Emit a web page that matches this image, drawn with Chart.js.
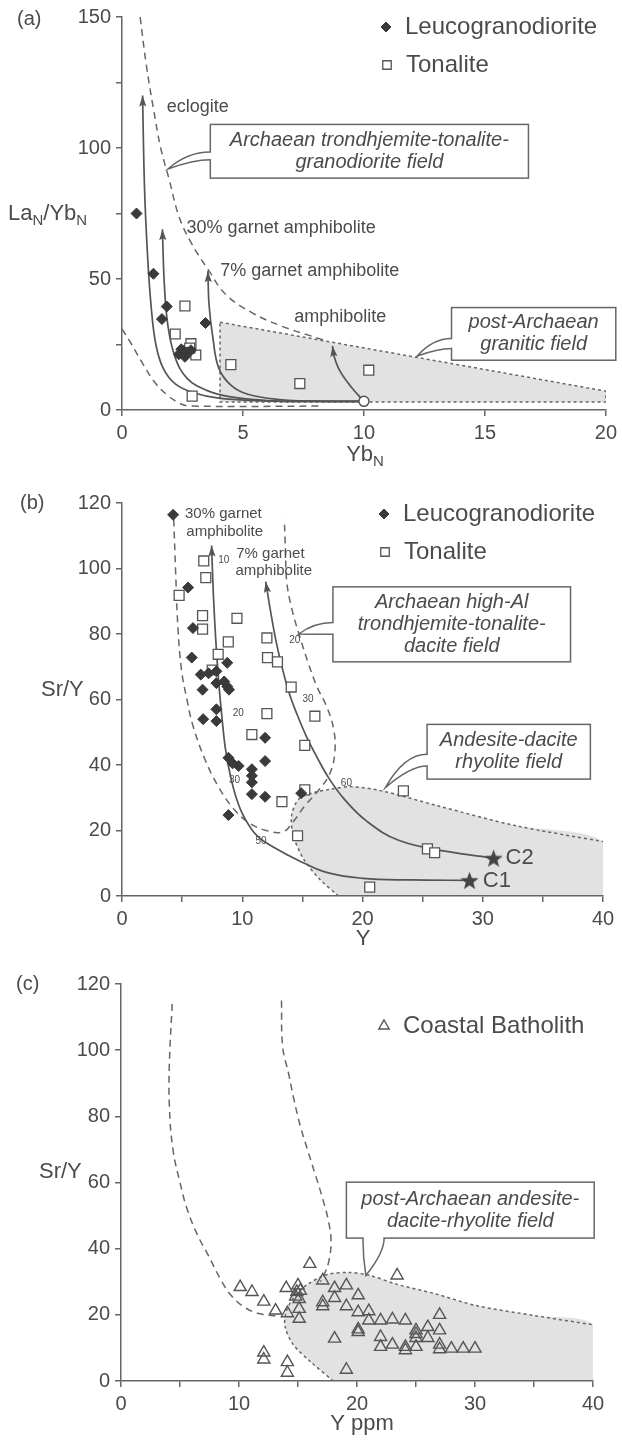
<!DOCTYPE html>
<html>
<head>
<meta charset="utf-8">
<title>Sr/Y and La/Yb discrimination diagrams</title>
<script src="https://cdn.jsdelivr.net/npm/chart.js@4.4.1/dist/chart.umd.min.js"></script>
<style>
  html, body { margin: 0; padding: 0; background: #fff; }
  body { width: 622px; height: 1440px; position: relative; overflow: hidden; }
  canvas { position: absolute; left: 0; }
</style>
</head>
<body>
<canvas id="chartA" width="622" height="480" style="top:0"></canvas>
<canvas id="chartB" width="622" height="490" style="top:470px"></canvas>
<canvas id="chartC" width="622" height="490" style="top:950px"></canvas>
<script>
// tick labels
const xTicksA = [0, 5, 10, 15, 20];
const yTicksA = [0, 50, 100, 150];
const xTicksSrY = [0, 10, 20, 30, 40];
const yTicksSrY = [0, 20, 40, 60, 80, 100, 120];

// (a) LaN/YbN vs YbN
const leucoA = [[0.6, 75], [1.3, 52], [1.85, 39.5], [1.65, 34.7], [3.45, 33.2], [2.45, 23.2], [2.7, 22], [2.6, 20.3], [2.85, 22.8], [2.35, 21.3], [2.55, 22.5]];
const tonaliteA = [[2.6, 39.7], [2.2, 29], [2.85, 25.3], [3.05, 21], [2.9, 5.3], [4.5, 17.3], [7.35, 10.1], [10.2, 15.2], [2.8, 23.6]];
const meltSourceA = [[10, 3.3]];
const eclogiteA = [[10, 3.3], [7.5, 3.3], [5.5, 3.6], [4, 4.5], [3, 6.5], [2.2, 10], [1.7, 16], [1.4, 25], [1.2, 40], [1.05, 60], [0.93, 85], [0.85, 120]];
const garnet30A = [[10, 3.3], [7.5, 3.3], [6, 3.6], [4.5, 5], [3.5, 7.5], [2.7, 12], [2.2, 20], [1.9, 32], [1.75, 48], [1.67, 69]];
const garnet7A = [[10, 3.3], [8, 3.4], [6.5, 4], [5.2, 6], [4.5, 9.5], [4.0, 16], [3.75, 28], [3.6, 40], [3.55, 53]];
const amphiboliteA = [[10, 3.3], [9.5, 8.5], [9.0, 15], [8.75, 21], [8.7, 24.5]];
const ttgOuterA = [[0.75, 150], [1.0, 132], [1.3, 115], [1.6, 100], [1.95, 88], [2.35, 74], [2.85, 64], [3.6, 53], [4.3, 44], [5.4, 37], [6.6, 32], [7.8, 28.3], [8.5, 26.2]];
const ttgInnerA = [[0, 31], [0.4, 25], [0.9, 17], [1.4, 10], [1.9, 5.5], [2.4, 2.5], [2.8, 1.5], [8.3, 1.5]];
const postArchaeanA = [[4.05, 33.5], [20, 7.2], [20, 3.1], [4.05, 3.1], [4.05, 33.5]];

// (b) Sr/Y vs Y
const leucoB = [[4.25, 116.4], [5.5, 94.2], [5.9, 81.8], [5.8, 72.8], [8.75, 71.2], [6.55, 67.6], [7.2, 68], [7.85, 68.6], [6.7, 63], [7.85, 65], [8.5, 65.5], [8.75, 64], [8.9, 63], [6.75, 54], [7.85, 53.4], [7.85, 57], [8.85, 42.2], [9.2, 40.5], [9.7, 39.7], [10.8, 38.7], [10.8, 36.7], [10.8, 34.7], [10.8, 31.1], [11.9, 48.3], [11.9, 41.2], [11.9, 30.3], [14.9, 31.4], [8.85, 24.7]];
const tonaliteB = [[4.75, 91.8], [6.8, 102.3], [6.97, 97.2], [6.7, 85.6], [6.7, 81.5], [9.56, 84.8], [8.84, 77.6], [12.05, 78.8], [12.1, 72.8], [8.0, 73.8], [12.93, 71.5], [7.5, 69], [14.07, 63.8], [12.05, 55.7], [16.04, 54.9], [10.8, 49.3], [15.2, 46], [15.2, 32.4], [13.3, 28.8], [14.6, 18.4], [23.4, 32.1], [25.4, 14.4], [26.0, 13.2], [20.6, 2.7]];
const sourcesB = [[28.9, 4.8], [30.9, 11.6]];
const sourceNames = ['C1', 'C2'];
const garnet30B = [[28.9, 4.8], [24, 4.9], [20, 5.4], [17, 7.2], [14.6, 11], [12.8, 14.5], [11.2, 18.5], [10.1, 24.5], [9.5, 30], [9.0, 37], [8.6, 45], [8.3, 55], [8.05, 65], [7.8, 78], [7.6, 92], [7.45, 107]];
const garnet7B = [[30.9, 11.6], [27, 13.6], [23, 17], [20.3, 23], [18.5, 29.5], [17.2, 36], [16.2, 42.5], [15.3, 49], [14.5, 56], [13.9, 62], [13.3, 70], [12.8, 78], [12.35, 87], [11.95, 96]];
const ttdFieldB = [[4.3, 115], [4.45, 100], [4.65, 82], [4.95, 69], [5.4, 60], [5.9, 52], [6.9, 41.7], [8.0, 33.5], [9.2, 27], [10.5, 22.5], [12.0, 20], [13.4, 19.6], [14.2, 22.5], [15.2, 27.5], [16.4, 32.5], [17.3, 37.5], [17.7, 44], [17.6, 51], [17.0, 58], [16.2, 64], [15.5, 71], [14.8, 79], [14.1, 88], [13.7, 96], [13.6, 105], [13.5, 115]];
const adrFieldB = [[18, 0], [16.4, 5.3], [15.1, 11.3], [14.25, 18.4], [14.1, 24.5], [14.7, 29.6], [16.0, 31.6], [17.3, 32.6], [19, 33.4], [21.6, 32.1], [26.2, 27.6], [32.7, 21.5], [40, 16.6]];
// melt fractions marked along the two curves
const meltMarksB = [[8.0, 102.6, '10'], [9.2, 55.9, '20'], [8.9, 35.2, '30'], [11.1, 16.6, '50'], [13.9, 78, '20'], [15.0, 60, '30'], [18.2, 34.4, '60']];

// (c) Coastal Batholith
const coastalC = [[10.1, 28.4], [11.1, 26.9], [12.1, 24], [13.1, 21.3], [14, 28.1], [14.1, 20.5], [15, 28.9], [15.1, 24.8], [15.1, 21.8], [15.1, 18.8], [14.9, 26.9], [15.2, 27.3], [14.8, 25.5], [16, 35.4], [17.1, 30.4], [17.1, 22.6], [17.1, 23.8], [18.1, 28.1], [18.1, 25.1], [18.1, 12.8], [19.1, 28.9], [19.1, 22.6], [19.1, 3.4], [20.1, 25.9], [20.1, 20.8], [20.1, 14.8], [20.1, 15.6], [21, 21.1], [21, 18.3], [22, 18.3], [22, 13.3], [22, 10.3], [23, 18.6], [23, 11], [23.4, 31.9], [24.1, 18.3], [24.1, 10.3], [24.1, 9.3], [25, 15.3], [25, 13], [25, 10.3], [25, 14.2], [26, 16.3], [26, 13], [27, 20], [27, 15.3], [27, 11], [27, 9.6], [28, 9.8], [29, 9.8], [30, 9.8], [12.1, 8.6], [12.1, 6.5], [14.1, 5.7], [14.1, 2.5]];
const ttdLeftC = [[4.34, 114], [4.1, 96], [4.1, 83], [4.4, 70], [5.0, 60], [5.6, 52], [6.5, 44], [7.4, 38], [8.4, 31], [9.3, 26], [10.5, 22.2], [11.8, 20.3], [13.3, 19.6]];
const ttdRightC = [[13.6, 115], [13.7, 101], [14.2, 93], [14.6, 86], [15.2, 77], [15.8, 70], [16.5, 62], [17.1, 55], [17.6, 48], [17.8, 42], [17.6, 36], [17.2, 32], [16.9, 30]];
const adrFieldC = [[18, 0], [16.1, 5.7], [14.6, 11], [13.9, 16.5], [14.0, 21], [14.7, 25.5], [15.8, 29.2], [17.5, 32.2], [19.3, 32.8], [21.1, 31.9], [23.4, 29.2], [26.5, 26.5], [30.1, 22.8], [35, 19.8], [40, 17]];

const INK = '#4b4b4b';
const LINE = '#666';
const SHADE = '#e2e2e2';
const FONT = '"Liberation Sans", Arial, Helvetica, sans-serif';

const toXY = arr => arr.map(p => ({ x: p[0], y: p[1] }));

// filled five-point star used for the source compositions
function starImage(size, color) {
  const c = document.createElement('canvas');
  c.width = c.height = size;
  const g = c.getContext('2d');
  const r = size / 2, ri = r * 0.42;
  g.beginPath();
  for (let i = 0; i < 10; i++) {
    const a = -Math.PI / 2 + i * Math.PI / 5;
    const rr = i % 2 ? ri : r;
    g.lineTo(r + rr * Math.cos(a), r * 1.1 + rr * Math.sin(a));
  }
  g.closePath();
  g.fillStyle = color;
  g.fill();
  return c;
}

const markers = {
  diamond: { pointStyle: 'rectRot', pointRadius: 5.5, pointBackgroundColor: '#3a3a3a', pointBorderColor: '#3a3a3a', pointBorderWidth: 1 },
  square: { pointStyle: 'rect', pointRadius: 7, pointBackgroundColor: '#fff', pointBorderColor: '#555', pointBorderWidth: 1.3 },
  triangle: { pointStyle: 'triangle', pointRadius: 7, pointBackgroundColor: 'rgba(0,0,0,0)', pointBorderColor: '#555', pointBorderWidth: 1.4 },
  circle: { pointStyle: 'circle', pointRadius: 5, pointBackgroundColor: '#fff', pointBorderColor: '#555', pointBorderWidth: 1.5 },
  star: { pointStyle: starImage(19, '#444'), pointRadius: 9 }
};

function points(data, marker, order) {
  return Object.assign({ type: 'scatter', data: toXY(data), showLine: false, order: order }, markers[marker]);
}

function curve(data, extra) {
  return Object.assign({
    type: 'line', data: toXY(data), pointRadius: 0, fill: false, order: 3,
    borderColor: '#555', borderWidth: 1.7, tension: 0.4
  }, extra || {});
}

function dashed(data) {
  return curve(data, { borderColor: LINE, borderWidth: 1.5, borderDash: [7, 5], order: 4 });
}

function dotted(data) {
  return curve(data, { borderColor: LINE, borderWidth: 1.5, borderDash: [3, 3], order: 4, tension: 0.3 });
}

function shaded(data, tension, outline) {
  return curve(data, {
    fill: 'shape', backgroundColor: SHADE, order: 6, tension: tension,
    borderColor: outline ? LINE : 'rgba(0,0,0,0)', borderWidth: outline ? 1.5 : 0.01, borderDash: [3, 3]
  });
}

function axis(min, max, step, labels, fit) {
  return {
    type: 'linear', min: min, max: max,
    border: { display: true, color: LINE, width: 1.5, z: 1 },
    grid: { drawOnChartArea: false, drawTicks: true, tickLength: 6, color: LINE, lineWidth: 1.5 },
    ticks: {
      stepSize: step, autoSkip: false, maxRotation: 0, padding: 5, color: INK,
      font: { family: FONT, size: 20 },
      callback: v => labels.includes(v) ? String(v) : ''
    },
    afterFit: fit
  };
}

function arrowHead(ctx, x0, y0, x1, y1, color) {
  const a = Math.atan2(y1 - y0, x1 - x0), len = 11, w = 3.6;
  ctx.save();
  ctx.fillStyle = color;
  ctx.translate(x1, y1);
  ctx.rotate(a);
  ctx.beginPath();
  ctx.moveTo(0, 0);
  ctx.lineTo(-len, -w);
  ctx.lineTo(-len + 2, 0);
  ctx.lineTo(-len, w);
  ctx.closePath();
  ctx.fill();
  ctx.restore();
}

// text made of plain and subscript pieces, e.g. LaN/YbN
function drawParts(ctx, parts, x, y, size, align) {
  const widthOf = p => { ctx.font = (p.sub ? size * 0.68 : size) + 'px ' + FONT; return ctx.measureText(p.t).width; };
  let cx = x;
  if (align === 'center') cx -= parts.reduce((s, p) => s + widthOf(p), 0) / 2;
  ctx.textAlign = 'left';
  ctx.textBaseline = 'middle';
  parts.forEach(p => {
    const w = widthOf(p);
    ctx.fillText(p.t, cx, p.sub ? y + size * 0.3 : y);
    cx += w;
  });
}

function drawCallout(ctx, c, X, Y) {
  const x1 = X(c.box[0]), y1 = Y(c.box[1]), x2 = X(c.box[2]), y2 = Y(c.box[3]);
  const tip = [X(c.tip[0]), Y(c.tip[1])];
  let b1, b2, k1, k2;
  if (c.side === 'left') {
    b1 = [x1, Y(c.base[0])];
    b2 = [x1, Y(c.base[1])];
    k1 = [tip[0] + (x1 - tip[0]) * 0.45, b1[1]];
    k2 = [tip[0] + (x1 - tip[0]) * 0.6, b2[1]];
  } else {
    b1 = [X(c.base[0]), y2];
    b2 = [X(c.base[1]), y2];
    k1 = [b1[0], tip[1] + (y2 - tip[1]) * 0.5];
    k2 = [b2[0], tip[1] + (y2 - tip[1]) * 0.6];
  }
  ctx.save();
  ctx.lineWidth = 1.5;
  ctx.strokeStyle = LINE;
  ctx.fillStyle = '#fff';
  ctx.fillRect(x1, y1, x2 - x1, y2 - y1);
  ctx.strokeRect(x1, y1, x2 - x1, y2 - y1);
  // open the border where the tail joins the box
  ctx.strokeStyle = '#fff';
  ctx.lineWidth = 3;
  ctx.beginPath();
  if (c.side === 'left') { ctx.moveTo(x1, b1[1] + 1); ctx.lineTo(x1, b2[1] - 1); }
  else { ctx.moveTo(b1[0] + 1, y2); ctx.lineTo(b2[0] - 1, y2); }
  ctx.stroke();
  ctx.beginPath();
  ctx.moveTo(b1[0], b1[1]);
  ctx.quadraticCurveTo(k1[0], k1[1], tip[0], tip[1]);
  ctx.quadraticCurveTo(k2[0], k2[1], b2[0], b2[1]);
  ctx.fill();
  ctx.strokeStyle = LINE;
  ctx.lineWidth = 1.5;
  ctx.beginPath();
  ctx.moveTo(b1[0], b1[1]);
  ctx.quadraticCurveTo(k1[0], k1[1], tip[0], tip[1]);
  ctx.quadraticCurveTo(k2[0], k2[1], b2[0], b2[1]);
  ctx.stroke();
  ctx.fillStyle = INK;
  ctx.font = 'italic 20px ' + FONT;
  ctx.textAlign = 'center';
  ctx.textBaseline = 'middle';
  const lh = 22, cy = (y1 + y2) / 2 - (c.lines.length - 1) * lh / 2;
  c.lines.forEach((t, i) => ctx.fillText(t, (x1 + x2) / 2, cy + i * lh));
  ctx.restore();
}

// labels, callouts, legend and axis titles drawn on top of the datasets
function decor(cfg) {
  return {
    id: 'decor',
    afterDatasetsDraw(chart) {
      const ctx = chart.ctx, sx = chart.scales.x, sy = chart.scales.y;
      const X = v => sx.getPixelForValue(v), Y = v => sy.getPixelForValue(v);
      chart.data.datasets.forEach((ds, i) => {
        if (!ds.arrowEnd) return;
        const el = chart.getDatasetMeta(i).data;
        const a = el[el.length - 2], b = el[el.length - 1];
        arrowHead(ctx, a.x, a.y, b.x, b.y, ds.borderColor);
      });
      ctx.save();
      ctx.fillStyle = INK;
      ctx.textBaseline = 'middle';
      (cfg.notes || []).forEach(n => {
        ctx.font = (n.size || 18) + 'px ' + FONT;
        ctx.textAlign = n.align || 'left';
        ctx.fillText(n.text, X(n.x), Y(n.y));
      });
      ctx.restore();
      (cfg.callouts || []).forEach(c => drawCallout(ctx, c, X, Y));
    },
    afterDraw(chart) {
      const ctx = chart.ctx;
      ctx.save();
      (cfg.legend || []).forEach(item => {
        const m = markers[item.marker];
        ctx.fillStyle = m.pointBackgroundColor;
        ctx.strokeStyle = m.pointBorderColor;
        ctx.lineWidth = m.pointBorderWidth;
        Chart.helpers.drawPoint(ctx, { pointStyle: m.pointStyle, radius: item.r, rotation: 0, borderWidth: m.pointBorderWidth }, item.x, item.y);
        ctx.fillStyle = INK;
        ctx.font = '24px ' + FONT;
        ctx.textAlign = 'left';
        ctx.textBaseline = 'middle';
        ctx.fillText(item.text, item.x + 19, item.y);
      });
      ctx.fillStyle = INK;
      (cfg.titles || []).forEach(t => drawParts(ctx, t.parts, t.x, t.y, t.size, t.align));
      ctx.restore();
    }
  };
}

function buildChart(id, datasets, scales, padding, cfg) {
  return new Chart(document.getElementById(id), {
    type: 'scatter',
    data: { datasets: datasets },
    options: {
      responsive: false,
      animation: false,
      events: [],
      layout: { padding: padding },
      scales: scales,
      plugins: { legend: { display: false }, tooltip: { enabled: false } }
    },
    plugins: [decor(cfg)]
  });
}

// ---- (a) ----
buildChart('chartA', [
  shaded(postArchaeanA, 0, true),
  dashed(ttgOuterA),
  dashed(ttgInnerA),
  curve(eclogiteA, { arrowEnd: true }),
  curve(garnet30A, { arrowEnd: true }),
  curve(garnet7A, { arrowEnd: true }),
  curve(amphiboliteA, { arrowEnd: true }),
  points(tonaliteA, 'square', 2),
  points(leucoA, 'diamond', 1),
  points(meltSourceA, 'circle', 0)
], {
  x: axis(0, 20, 5, xTicksA, s => { s.height = 70; }),
  y: axis(0, 150, 25, yTicksA, s => { s.width = 122; })
}, { top: 15, right: 14, left: 0, bottom: 0 }, {
  notes: [
    { x: 1.85, y: 115.8, text: 'eclogite' },
    { x: 2.67, y: 69.5, text: '30% garnet amphibolite' },
    { x: 4.06, y: 53.2, text: '7% garnet amphibolite' },
    { x: 7.12, y: 35.3, text: 'amphibolite' }
  ],
  callouts: [
    { box: [3.65, 109, 16.8, 88.5], lines: ['Archaean trondhjemite-tonalite-', 'granodiorite field'], side: 'left', base: [98.5, 95.5], tip: [1.9, 92] },
    { box: [13.62, 39.1, 20.41, 19.0], lines: ['post-Archaean', 'granitic field'], side: 'left', base: [27.3, 23.5], tip: [12.2, 20.6] }
  ],
  legend: [
    { marker: 'diamond', r: 5, x: 386, y: 27, text: 'Leucogranodiorite' },
    { marker: 'square', r: 6, x: 387, y: 65, text: 'Tonalite' }
  ],
  titles: [
    { parts: [{ t: '(a)' }], x: 17, y: 19, size: 20 },
    { parts: [{ t: 'La' }, { t: 'N', sub: true }, { t: '/Yb' }, { t: 'N', sub: true }], x: 8, y: 214, size: 22 },
    { parts: [{ t: 'Yb' }, { t: 'N', sub: true }], x: 365, y: 455, size: 22, align: 'center' }
  ]
});

// ---- (b) ----
buildChart('chartB', [
  shaded(adrFieldB.concat([[40, 0], [18, 0]]), 0.3, false),
  dotted(adrFieldB),
  dashed(ttdFieldB),
  curve(garnet30B, { arrowEnd: true }),
  curve(garnet7B, { arrowEnd: true }),
  points(tonaliteB, 'square', 2),
  points(leucoB, 'diamond', 1),
  points(sourcesB, 'star', 0)
], {
  x: axis(0, 40, 5, xTicksSrY, s => { s.height = 64; }),
  y: axis(0, 120, 20, yTicksSrY, s => { s.width = 122; })
}, { top: 33, right: 19, left: 0, bottom: 0 }, {
  notes: [
    { x: 5.24, y: 116.8, text: '30% garnet', size: 15 },
    { x: 5.35, y: 111.1, text: 'amphibolite', size: 15 },
    { x: 9.5, y: 104.4, text: '7% garnet', size: 15 },
    { x: 9.43, y: 99.3, text: 'amphibolite', size: 15 },
    { x: 31.9, y: 11.6, text: sourceNames[1], size: 22 },
    { x: 30.0, y: 4.6, text: sourceNames[0], size: 22 }
  ].concat(meltMarksB.map(m => ({ x: m[0], y: m[1], text: m[2], size: 10 }))),
  callouts: [
    { box: [17.54, 94.4, 37.3, 71.5], lines: ['Archaean high-Al', 'trondhjemite-tonalite-', 'dacite field'], side: 'left', base: [83.5, 79.9], tip: [14.7, 80] },
    { box: [25.37, 52.4, 38.95, 35.7], lines: ['Andesite-dacite', 'rhyolite field'], side: 'left', base: [43.3, 39.7], tip: [21.9, 33.1] }
  ],
  legend: [
    { marker: 'diamond', r: 5, x: 384, y: 44, text: 'Leucogranodiorite' },
    { marker: 'square', r: 6, x: 385, y: 82, text: 'Tonalite' }
  ],
  titles: [
    { parts: [{ t: '(b)' }], x: 20, y: 33, size: 20 },
    { parts: [{ t: 'Sr/Y' }], x: 41, y: 220, size: 22 },
    { parts: [{ t: 'Y' }], x: 363, y: 469, size: 22, align: 'center' }
  ]
});

// ---- (c) ----
buildChart('chartC', [
  shaded(adrFieldC.concat([[40, 0], [18, 0]]), 0.3, false),
  dotted(adrFieldC),
  dashed(ttdLeftC),
  dashed(ttdRightC),
  points(coastalC, 'triangle', 1)
], {
  x: axis(0, 40, 5, xTicksSrY, s => { s.height = 59; }),
  y: axis(0, 120, 20, yTicksSrY, s => { s.width = 121; })
}, { top: 34, right: 29, left: 0, bottom: 0 }, {
  callouts: [
    { box: [19.1, 60.1, 40.1, 43.2], lines: ['post-Archaean andesite-', 'dacite-rhyolite field'], side: 'bottom', base: [20.5, 22.3], tip: [20.75, 31.9] }
  ],
  legend: [
    { marker: 'triangle', r: 6, x: 384, y: 76, text: 'Coastal Batholith' }
  ],
  titles: [
    { parts: [{ t: '(c)' }], x: 16, y: 34, size: 20 },
    { parts: [{ t: 'Sr/Y' }], x: 39, y: 222, size: 22 },
    { parts: [{ t: 'Y ppm' }], x: 362, y: 474, size: 22, align: 'center' }
  ]
});
</script>
</body>
</html>
